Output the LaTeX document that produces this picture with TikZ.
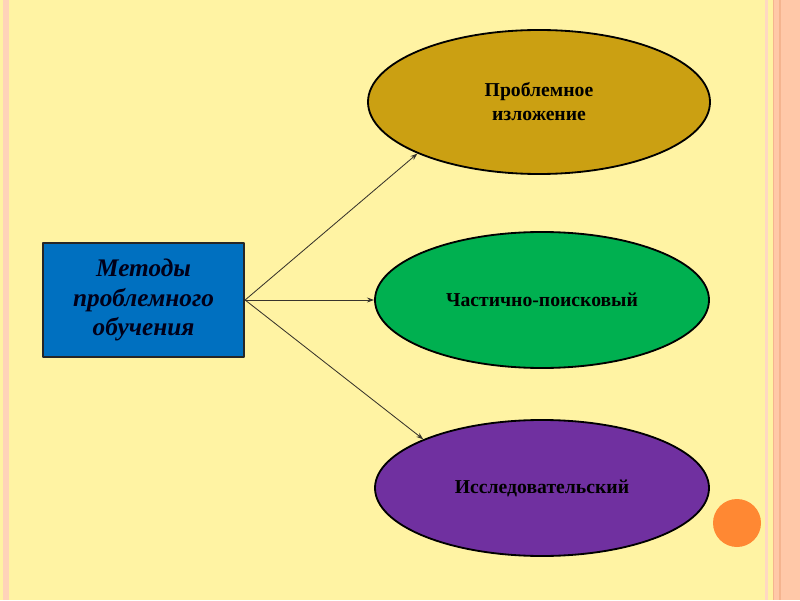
\documentclass[tikz,border=0pt]{standalone}
\usepackage{fontspec}
\setmainfont{Liberation Serif}
\usepackage{tikz}
\usetikzlibrary{arrows.meta,calc}
\usetikzlibrary{positioning,shapes.geometric}
\definecolor{pagebg}{HTML}{FFF3A3}
\definecolor{stripe}{HTML}{FFC8A8}
\definecolor{stripedark}{HTML}{F5B48F}
\definecolor{goldfill}{HTML}{CBA012}
\definecolor{greenfill}{HTML}{00B050}
\definecolor{violetfill}{HTML}{7030A0}
\definecolor{bluefill}{HTML}{0070C0}
\definecolor{dotorange}{HTML}{FF8833}
\tikzset{methodbox/.style={draw=black!85,line width=1.3pt,fill=bluefill,minimum width=5.03cm,minimum height=2.85cm,align=center,font=\fontsize{18}{21}\selectfont\bfseries\itshape,text=black!90!blue},
  kindell/.style={ellipse,draw=black,line width=1.3pt,minimum width=8.35cm,minimum height=3.4cm,align=center,font=\fontsize{14}{17}\selectfont\bfseries,inner sep=0pt}}

\begin{document}
\begin{tikzpicture}[>={Stealth[length=5pt,width=3.5pt]},line join=round]
% --- page: yellow slide with stripes at both sides
\fill[pagebg] (0,0) rectangle (20,15);
\useasboundingbox (0,0) rectangle (20,15);
\fill[stripe!80] (0.075,0) rectangle (0.225,15);
\fill[stripe!70] (19.125,0) rectangle (19.2,15);
\fill[stripe] (19.325,0) rectangle (20,15);
\fill[stripedark] (19.325,0) rectangle (19.36,15);
\fill[stripedark] (19.47,0) rectangle (19.52,15);
\fill[dotorange] (18.425,1.925) circle (0.6);
% --- the three methods
\node[methodbox] (metody) at (3.59,7.5) {Методы\\проблемного\\обучения};
\node[kindell,fill=goldfill,minimum width=8.55cm,minimum height=3.6cm] (izlozh) at (13.475,12.45) {Проблемное\\изложение};
\node[kindell,fill=greenfill] (poisk) at (13.55,7.5) {Частично-поисковый};
\node[kindell,fill=violetfill] (issled) at (13.55,2.8) {Исследовательский};
\draw[->,black!80!olive,line width=0.6pt] (metody.east) -- (izlozh.south west);
\draw[->,black!80!olive,line width=0.6pt] (metody.east) -- (poisk.west);
\draw[->,black!80!olive,line width=0.6pt] (metody.east) -- (issled.north west);
\end{tikzpicture}
\end{document}
